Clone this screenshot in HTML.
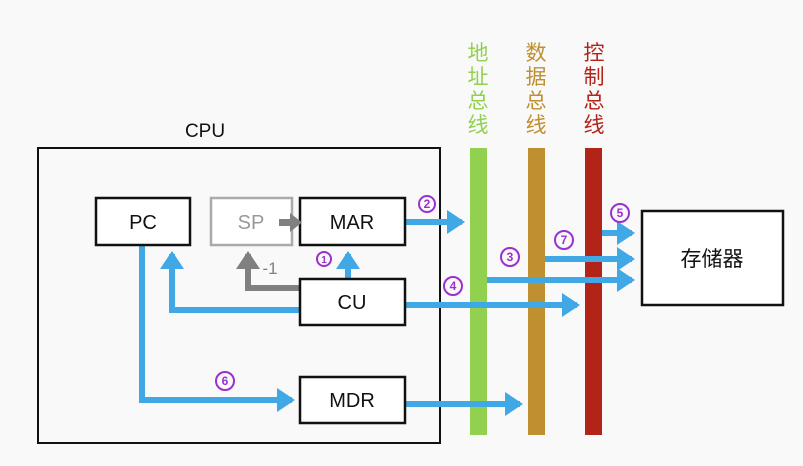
<!DOCTYPE html>
<html><head><style>
body{margin:0;background:#fff;}
svg{display:block;}
text{font-family:"Liberation Sans","Noto Sans CJK SC",sans-serif;}
</style></head><body>
<svg width="803" height="466" viewBox="0 0 803 466" xmlns="http://www.w3.org/2000/svg">
<defs>
<marker id="b" markerWidth="4" markerHeight="4" refX="2.5" refY="2" orient="auto" markerUnits="strokeWidth"><path d="M0,0 L3,2 L0,4 z" fill="#41a8e6"/></marker>
<marker id="g" markerWidth="4" markerHeight="4" refX="2.5" refY="2" orient="auto" markerUnits="strokeWidth"><path d="M0,0 L3,2 L0,4 z" fill="#808080"/></marker>
</defs>
<rect width="803" height="466" fill="#f9f9f9"/>
<text x="205" y="137" font-size="19" text-anchor="middle" fill="#111">CPU</text>
<rect x="38" y="148" width="402" height="295" fill="none" stroke="#111" stroke-width="2"/>
<rect x="470" y="148" width="17" height="287" fill="#92d050"/>
<rect x="528" y="148" width="17" height="287" fill="#bf9030"/>
<rect x="585" y="148" width="17" height="287" fill="#b22418"/>
<g font-size="21" text-anchor="middle">
<text x="478" y="60" fill="#92d050">地</text><text x="478" y="84" fill="#92d050">址</text><text x="478" y="108" fill="#92d050">总</text><text x="478" y="132" fill="#92d050">线</text>
<text x="536" y="60" fill="#bf9030">数</text><text x="536" y="84" fill="#bf9030">据</text><text x="536" y="108" fill="#bf9030">总</text><text x="536" y="132" fill="#bf9030">线</text>
<text x="594" y="60" fill="#b22418">控</text><text x="594" y="84" fill="#b22418">制</text><text x="594" y="108" fill="#b22418">总</text><text x="594" y="132" fill="#b22418">线</text>
</g>
<g stroke="#41a8e6" stroke-width="6" fill="none">
<path d="M405,222 H462" marker-end="url(#b)"/>
<path d="M487,280 H632" marker-end="url(#b)"/>
<path d="M545,259 H632" marker-end="url(#b)"/>
<path d="M602,233 H632" marker-end="url(#b)"/>
<path d="M405,305 H577" marker-end="url(#b)"/>
<path d="M405,404 H520" marker-end="url(#b)"/>
<path d="M142,245 V400 H292" marker-end="url(#b)"/>
<path d="M300,310 H172 V254" marker-end="url(#b)"/>
<path d="M348,279 V254" marker-end="url(#b)"/>
</g>
<g stroke="#808080" stroke-width="6" fill="none">
<path d="M300,288 H248 V254" marker-end="url(#g)"/>
</g>
<text x="270" y="274" font-size="17" fill="#808080" text-anchor="middle">-1</text>
<g stroke-width="2.5">
<rect x="96" y="198" width="94" height="47" fill="#fff" stroke="#111"/>
<rect x="211" y="198" width="81" height="47" fill="#fff" stroke="#aaa"/>
<rect x="300" y="198" width="105" height="47" fill="#fff" stroke="#111"/>
<rect x="300" y="279" width="105" height="46" fill="#fff" stroke="#111"/>
<rect x="300" y="377" width="105" height="46" fill="#fff" stroke="#111"/>
<rect x="642" y="211" width="141" height="94" fill="#fff" stroke="#111"/>
</g>
<rect x="279" y="219" width="12" height="7" fill="#808080"/>
<polygon points="290,213 302,222.5 290,232" fill="#808080"/>
<g font-size="20" text-anchor="middle" fill="#111">
<text x="143" y="229">PC</text>
<text x="251" y="229" fill="#999">SP</text>
<text x="352" y="229">MAR</text>
<text x="352" y="309">CU</text>
<text x="352" y="407">MDR</text>
<text x="712" y="266" font-size="21">存储器</text>
</g>
<g stroke="#9b30d0" stroke-width="2" fill="none">
<circle cx="427" cy="204" r="8"/><circle cx="324" cy="259" r="7"/><circle cx="510" cy="257" r="9"/>
<circle cx="453" cy="286" r="9"/><circle cx="564" cy="240" r="9"/><circle cx="620" cy="213" r="9"/><circle cx="225" cy="381" r="9"/>
</g>
<g fill="#9b30d0" font-size="12" text-anchor="middle" font-weight="bold">
<text x="427" y="208">2</text><text x="324" y="263" font-size="10">1</text><text x="510" y="261">3</text>
<text x="453" y="290">4</text><text x="564" y="244">7</text><text x="620" y="217">5</text><text x="225" y="385">6</text>
</g>
</svg>
</body></html>
